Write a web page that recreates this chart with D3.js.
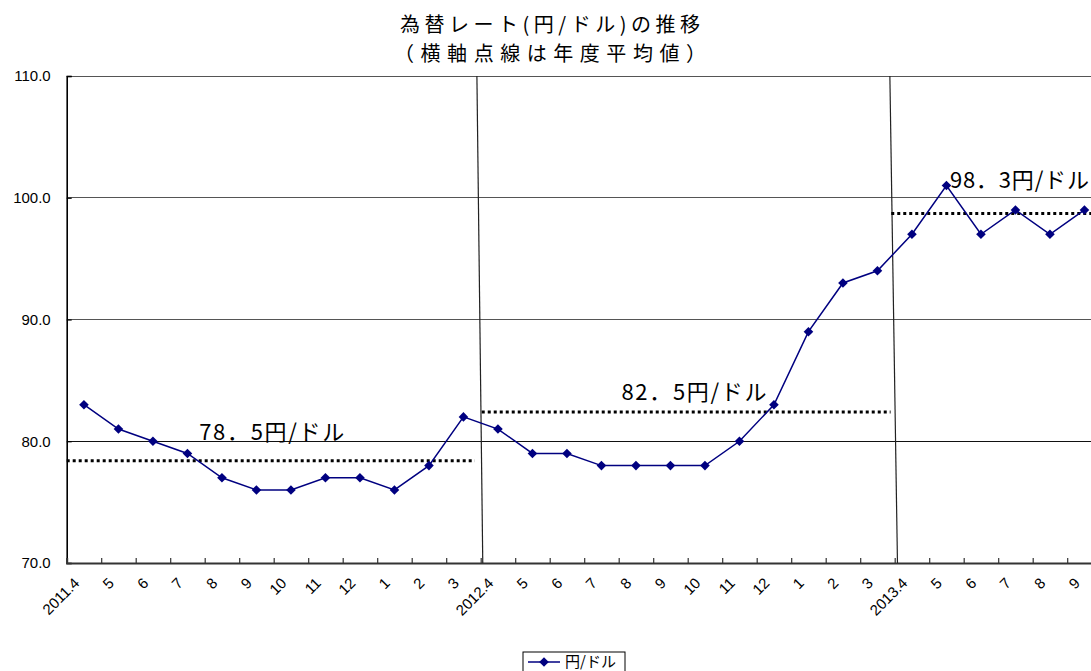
<!DOCTYPE html>
<html>
<head>
<meta charset="utf-8">
<script src="https://cdn.jsdelivr.net/npm/d3@7"></script>
<style>
  html, body { margin: 0; padding: 0; background: #fff; overflow: hidden; }
  svg { display: block; }
  text { font-family: "Liberation Sans", Arial, sans-serif; }
  .jp { font-family: "Noto Sans CJK JP", "Noto Sans", sans-serif; }
</style>
</head>
<body>
<svg id="chart" width="1091" height="671"></svg>
<script>
// ---- data ----
const months = ["2011.4","5","6","7","8","9","10","11","12","1","2","3",
                "2012.4","5","6","7","8","9","10","11","12","1","2","3",
                "2013.4","5","6","7","8","9"];
const rates = [83,81,80,79,77,76,76,77,77,76,78,82,
               81,79,79,78,78,78,78,80,83,89,93,94,
               97,101,97,99,97,99];
const yTicks = [70,80,90,100,110];
const gridValues = [80,90,100,110];
const titleLines = ["為替レート(円/ドル)の推移", "（横軸点線は年度平均値）"];
const seriesName = "円/ドル";
// fiscal-year averages (dotted lines)
const avgLabels = ["78．5円/ドル", "82．5円/ドル", "98．3円/ドル"];
const avgLevels = [78.4, 82.4, 98.7];
const avgFrom = [0, 12.03, 23.9];
const avgTo = [11.83, 23.88, 30];
const avgLabelX = [3.84, 16.08, 25.6];
const avgLabelY = [80.1, 83.4, 100.76];
// hand-drawn fiscal year separators (category-boundary units, top / bottom)
const yearLineTop = [11.89, 23.86];
const yearLineBottom = [12.06, 24.08];

// ---- layout ----
const svg = d3.select("#chart");
const mLeft = 66.7, mTop = 76, mBottom = 563;
const x = d3.scaleLinear().domain([0, months.length]).range([mLeft, mLeft + 34.5 * months.length]);
const y = d3.scaleLinear().domain([70, 110]).range([mBottom, mTop]);
const plotRight = x(months.length);

// title
svg.append("g").selectAll("text").data(titleLines).join("text")
  .attr("class", "jp")
  .attr("x", 550).attr("y", (d, i) => 32 + i * 29)
  .attr("text-anchor", "middle")
  .attr("font-size", 20)
  .attr("fill", "#000")
  .attr("textLength", (d, i) => i === 0 ? 300 : 312)
  .attr("lengthAdjust", "spacing")
  .text(d => d);

// gridlines
svg.append("g").selectAll("line").data(gridValues).join("line")
  .attr("x1", mLeft).attr("x2", plotRight)
  .attr("y1", d => y(d)).attr("y2", d => y(d))
  .attr("stroke", d => d === 80 ? "#111" : "#555")
  .attr("stroke-width", 1)
  .attr("shape-rendering", "crispEdges");

// y axis
const yAxis = svg.append("g").attr("transform", `translate(${mLeft},0)`)
  .call(d3.axisLeft(y).tickValues(yTicks).tickSize(-5).tickPadding(16).tickFormat(d3.format(".1f")));
yAxis.select(".domain").attr("stroke", "#000").attr("stroke-width", 1.6);
yAxis.selectAll(".tick line").attr("stroke", "#000").attr("stroke-width", 1.2);
yAxis.selectAll("text").attr("font-size", 15).attr("fill", "#000")
  .attr("font-family", "Liberation Sans, Arial, sans-serif");

// x axis ticks (between categories, pointing inward)
const xAxis = svg.append("g").attr("transform", `translate(0,${mBottom})`)
  .call(d3.axisBottom(x).tickValues(d3.range(months.length + 1)).tickSize(-5).tickFormat(""));
xAxis.select(".domain").attr("stroke", "#333").attr("stroke-width", 2);
xAxis.selectAll(".tick line").attr("stroke", "#333").attr("stroke-width", 1.2);

// x labels at category centres
const xLab = svg.append("g").attr("transform", `translate(0,${mBottom})`)
  .call(d3.axisBottom(x).tickValues(d3.range(months.length).map(i => i + 0.5))
    .tickSize(0).tickFormat((d, i) => months[i]));
xLab.select(".domain").remove();
xLab.selectAll("text")
  .attr("font-size", 15).attr("fill", "#000")
  .attr("font-family", "Liberation Sans, Arial, sans-serif")
  .attr("text-anchor", "end")
  .attr("dy", null).attr("y", null)
  .attr("transform", "translate(-4,21) rotate(-45)");

// fiscal year separator lines
svg.append("g").selectAll("line").data(yearLineTop).join("line")
  .attr("x1", d => x(d)).attr("y1", y(110))
  .attr("x2", (d, i) => x(yearLineBottom[i])).attr("y2", y(70))
  .attr("stroke", "#222").attr("stroke-width", 1.2);

// dotted average lines
svg.append("g").selectAll("line").data(avgLevels).join("line")
  .attr("x1", (d, i) => x(avgFrom[i])).attr("x2", (d, i) => x(avgTo[i]))
  .attr("y1", d => y(d)).attr("y2", d => y(d))
  .attr("stroke", "#000").attr("stroke-width", 3)
  .attr("stroke-dasharray", "3,3");

// average labels
svg.append("g").selectAll("text").data(avgLabels).join("text")
  .attr("class", "jp")
  .attr("x", (d, i) => x(avgLabelX[i]))
  .attr("y", (d, i) => y(avgLabelY[i]))
  .attr("font-size", 22).attr("fill", "#000")
  .attr("textLength", (d, i) => i === 2 ? 139 : 145).attr("lengthAdjust", "spacing")
  .text(d => d);

// series line
const line = d3.line().x((d, i) => x(i + 0.5)).y(d => y(d));
svg.append("path").datum(rates)
  .attr("d", line)
  .attr("fill", "none").attr("stroke", "#000080").attr("stroke-width", 1.5);

const diamond = d3.symbol().type(d3.symbolSquare).size(46);
svg.append("g").selectAll("path").data(rates).join("path")
  .attr("d", diamond)
  .attr("transform", (d, i) => `translate(${x(i + 0.5)},${y(d)}) rotate(45)`)
  .attr("fill", "#000080");

// legend
const lg = svg.append("g").attr("transform", "translate(523,652)");
lg.append("rect").attr("x", 0).attr("y", 0).attr("width", 102).attr("height", 30)
  .attr("fill", "#fff").attr("stroke", "#000").attr("stroke-width", 1);
lg.append("line").attr("x1", 5).attr("x2", 37).attr("y1", 10).attr("y2", 10)
  .attr("stroke", "#000080").attr("stroke-width", 1.5);
lg.append("path").attr("d", diamond)
  .attr("transform", "translate(21,10) rotate(45)").attr("fill", "#000080");
lg.append("text").attr("class", "jp").attr("x", 42).attr("y", 15)
  .attr("font-size", 15).attr("fill", "#000").text(seriesName);
</script>
</body>
</html>
